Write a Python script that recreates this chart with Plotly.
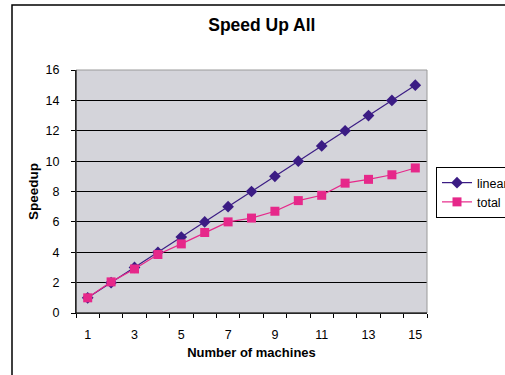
import plotly.graph_objects as go

machines = list(range(1, 16))
linear = [1, 2, 3, 4, 5, 6, 7, 8, 9, 10, 11, 12, 13, 14, 15]
total = [1.0, 2.05, 2.9, 3.85, 4.55, 5.3, 6.0, 6.25, 6.7, 7.4, 7.75, 8.55, 8.8, 9.1, 9.55]
x_tick_labels = ["1", "3", "5", "7", "9", "11", "13", "15"]
x_tick_vals = [1, 3, 5, 7, 9, 11, 13, 15]

FONT = "Liberation Sans, Arial, Helvetica, sans-serif"
W, H = 505, 375
L, R, T, B = 76, 78, 70, 62
pw, ph = W - L - R, H - T - B

fig = go.Figure()
fig.add_trace(go.Scatter(
    x=machines, y=linear, name="linear", mode="lines+markers",
    line=dict(color="#3b1c84", width=1.2),
    marker=dict(symbol="diamond", size=9, color="#3b1c84"),
))
fig.add_trace(go.Scatter(
    x=machines, y=total, name="total", mode="lines+markers",
    line=dict(color="#e6288a", width=1.2),
    marker=dict(symbol="square", size=9, color="#e6288a"),
))

def px_x(p):
    return (p - L) / pw

def px_y(p):
    return (H - B - p) / ph

fig.update_layout(
    width=W, height=H,
    margin=dict(l=L, r=R, t=T, b=B, autoexpand=False),
    paper_bgcolor="white",
    plot_bgcolor="#d4d4da",
    font=dict(family=FONT, size=12, color="black"),
    title=dict(text="<b>Speed Up All</b>", x=px_x(258), xanchor="center",
               y=1 - 25 / H, yanchor="middle", font=dict(size=17.5)),
    xaxis=dict(
        range=[0.5, 15.5], tickmode="array", tickvals=x_tick_vals, ticktext=x_tick_labels,
        ticks="", showgrid=False, zeroline=False,
        showline=True, linecolor="black", linewidth=1,
        ticklabelstandoff=10, tickfont=dict(size=12.5),
        minor=dict(tickmode="linear", tick0=0.5, dtick=1, ticks="outside",
                   ticklen=4, tickcolor="black", showgrid=False),
        title=dict(text="<b>Number of machines</b>", standoff=6, font=dict(size=13)),
    ),
    yaxis=dict(
        range=[0, 16], dtick=2, tick0=0, ticks="outside", ticklen=4, tickcolor="black",
        showgrid=True, gridcolor="black", gridwidth=1, zeroline=False,
        showline=True, linecolor="black", linewidth=1,
        ticklabelstandoff=9, tickfont=dict(size=12.5),
        title=dict(text="<b>Speedup</b>", standoff=3, font=dict(size=13.5)),
    ),
    legend=dict(
        x=px_x(436), xanchor="left", y=px_y(167), yanchor="top",
        bordercolor="black", borderwidth=1, bgcolor="white",
        font=dict(size=12.5), itemwidth=30, tracegroupgap=0,
    ),
    showlegend=True,
    shapes=[
        dict(type="rect", xref="paper", yref="paper", x0=0, x1=1, y0=0, y1=1,
             line=dict(color="#9a9a9a", width=1), layer="above"),
        dict(type="line", xref="paper", yref="paper", x0=0, x1=0, y0=0, y1=1,
             line=dict(color="black", width=1), layer="above"),
        dict(type="line", xref="paper", yref="paper", x0=0, x1=1, y0=0, y1=0,
             line=dict(color="black", width=1), layer="above"),
        dict(type="rect", xref="paper", yref="paper",
             x0=px_x(12), x1=px_x(560), y0=px_y(420), y1=px_y(5),
             line=dict(color="black", width=1.5), layer="above"),
    ],
)

fig.write_html("out.html")
